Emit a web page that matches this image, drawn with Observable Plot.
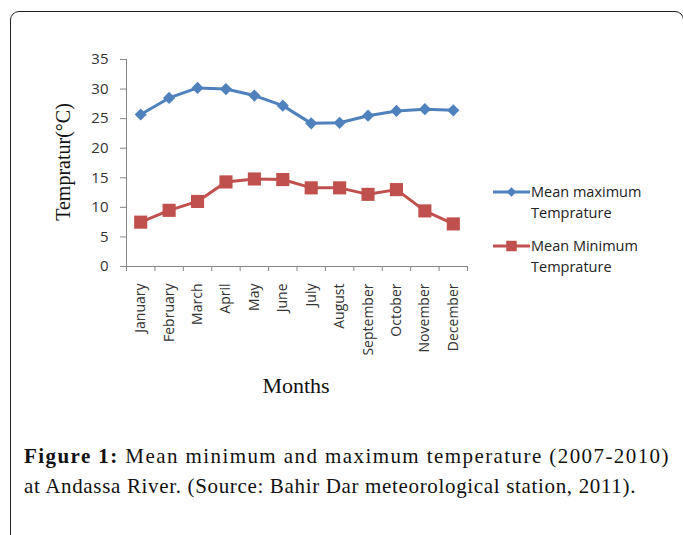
<!DOCTYPE html>
<html><head><meta charset="utf-8">
<script src="https://cdn.jsdelivr.net/npm/d3@7"></script>
<script src="https://cdn.jsdelivr.net/npm/@observablehq/plot@0.6"></script>
<style>
html,body{margin:0;padding:0;background:#fff;}
body{width:683px;height:535px;overflow:hidden;position:relative;font-family:"Open Sans",sans-serif;}
#frame{position:absolute;left:10px;top:11px;width:674px;height:620px;border:1.5px solid #222;border-radius:9px;box-sizing:border-box;}
#chart{position:absolute;left:0;top:0;}
#ytitle{position:absolute;left:63px;top:162px;transform:translate(-50%,-50%) rotate(-90deg);font-family:"Liberation Serif",serif;font-size:20px;color:#111;white-space:nowrap;}
#xtitle{position:absolute;left:296px;top:373px;transform:translateX(-50%);font-family:"Liberation Serif",serif;font-size:22px;color:#111;white-space:nowrap;}
#legend{position:absolute;left:493px;top:181px;width:190px;font-size:14.5px;color:#222;}
.item{position:relative;height:54px;}
.item svg{position:absolute;left:0;top:3px;}
.item div{position:absolute;left:38px;top:0;line-height:21px;white-space:nowrap;}
#caption{position:absolute;left:24px;top:441px;font-family:"Liberation Serif",serif;font-size:21px;line-height:30px;color:#111;white-space:nowrap;}
#caption .l1{letter-spacing:1.42px;}
#caption .l2{letter-spacing:0.66px;}
</style></head><body>
<div id="frame"></div>
<div id="chart"></div>
<div id="ytitle">Tempratur(°C)</div>
<div id="xtitle">Months</div>
<div id="legend"></div>
<div id="caption"><div class="l1"><b>Figure 1:</b> Mean minimum and maximum temperature (2007-2010)</div><div class="l2">at Andassa River. (Source: Bahir Dar meteorological station, 2011).</div></div>
<script>
const months = ["January","February","March","April","May","June","July","August","September","October","November","December"];
const maxTemp = [25.7,28.5,30.2,30.0,28.9,27.2,24.2,24.3,25.5,26.3,26.6,26.4];
const minTemp = [7.5,9.5,11.0,14.3,14.8,14.7,13.3,13.3,12.2,13.0,9.4,7.2];
const seriesNames = ["Mean maximum Temprature","Mean Minimum Temprature"];
const seriesLines = [["Mean maximum","Temprature"],["Mean Minimum","Temprature"]];
const seriesColors = ["#4F81BD","#C0504D"];
const yTicks = [0,5,10,15,20,25,30,35];

const idx = d3.range(months.length);
const maxRows = idx.map(i => ({i, value: maxTemp[i], series: seriesNames[0]}));
const minRows = idx.map(i => ({i, value: minTemp[i], series: seriesNames[1]}));
const bounds = d3.range(months.length + 1).map(k => k - 0.5);
const axisColor = "#868686";

const chart = Plot.plot({
  width: 683, height: 420,
  marginLeft: 126, marginRight: 216, marginTop: 59, marginBottom: 154,
  style: {fontFamily: "Open Sans", fontSize: "14px", background: "transparent", overflow: "visible"},
  x: {domain: [-0.5, months.length - 0.5]},
  y: {domain: [0, 35]},
  color: {domain: seriesNames, range: seriesColors},
  marks: [
    Plot.axisY({ticks: yTicks, tickSize: 6, tickPadding: 12, label: null, fontSize: 15, stroke: axisColor, fill: "#333"}),
    Plot.axisX({ticks: idx, tickFormat: i => months[i], tickSize: 0, tickRotate: -90, tickPadding: 17, label: null, fill: "#333", fontSize: 14}),
    Plot.ruleX([-0.5], {y1: 0, y2: 35, stroke: axisColor}),
    Plot.ruleY([0], {stroke: axisColor}),
    Plot.ruleX(bounds, {y1: 0, y2: -0.85, stroke: axisColor}),
    Plot.lineY(maxRows, {x: "i", y: "value", stroke: "series", strokeWidth: 3}),
    Plot.lineY(minRows, {x: "i", y: "value", stroke: "series", strokeWidth: 3}),
    Plot.dot(maxRows, {x: "i", y: "value", fill: "series", symbol: "diamond2", r: 5.5}),
    Plot.dot(minRows, {x: "i", y: "value", fill: "series", symbol: "square", r: 7.4})
  ]
});
document.getElementById("chart").appendChild(chart);

const legend = d3.select("#legend");
seriesNames.forEach((s, k) => {
  const item = legend.append("div").attr("class", "item");
  const svg = item.append("svg").attr("width", 38).attr("height", 16);
  svg.append("line").attr("x1", 0).attr("x2", 37).attr("y1", 8).attr("y2", 8)
    .attr("stroke", seriesColors[k]).attr("stroke-width", 3);
  const sym = k === 0 ? d3.symbol(d3.symbolDiamond2, 60) : d3.symbol(d3.symbolSquare, 110);
  svg.append("path").attr("d", sym()).attr("transform", "translate(18.5,8)").attr("fill", seriesColors[k]);
  item.append("div").html(seriesLines[k].join("<br>"));
});
</script>
</body></html>
